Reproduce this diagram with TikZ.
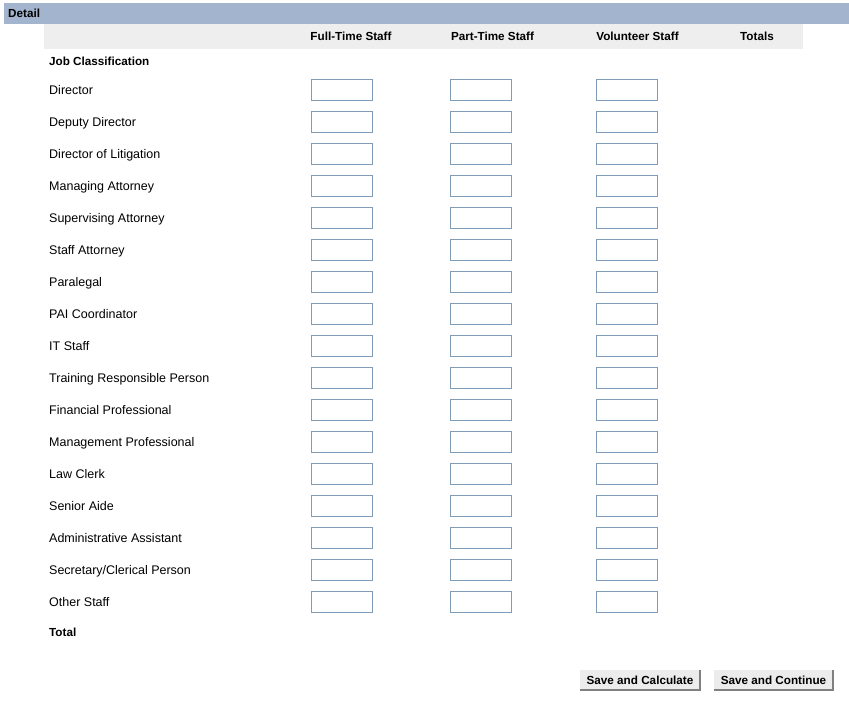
\documentclass[tikz,border=0pt]{standalone}
\usepackage{fontspec}
\setmainfont{Liberation Sans}
\usepackage{xcolor}
\definecolor{barblue}{HTML}{A3B5CE}
\definecolor{bandgray}{HTML}{EEEEEE}
\definecolor{boxblue}{HTML}{7F9DB9}
\definecolor{btngray}{HTML}{ECECEC}
\tikzset{
  lbl/.style={anchor=base west, inner sep=0pt, font=\fontsize{12.5}{14}\selectfont},
  hdr/.style={anchor=base, inner sep=0pt, font=\fontsize{11.7}{14}\selectfont\bfseries},
  entry/.style={draw=boxblue, line width=1.3pt, fill=white, minimum width=61pt, minimum height=21pt, inner sep=0pt},
  btn/.style={fill=btngray, inner sep=0pt, minimum height=20pt, font=\fontsize{11.7}{14}\selectfont\bfseries}
}

\begin{document}
\begin{tikzpicture}[x=1pt,y=-1pt]
\useasboundingbox (0,0) rectangle (849,701);
%\draw[step=50pt,gray,very thin] (0,0) grid (849,701); %background grid
\fill[barblue] (4,3) rectangle (849,24);
\node[hdr, anchor=base west] (detail) at (8,18) {Detail};
\fill[bandgray] (44,24) rectangle (803,49);
\node[hdr] (hfull) at (351,41) {Full-Time Staff};
\node[hdr] (hpart) at (492.5,41) {Part-Time Staff};
\node[hdr] (hvol)  at (637.5,41) {Volunteer Staff};
\node[hdr] (htot)  at (757,41) {Totals};
\node[hdr, anchor=base west] (jobclass) at (49,66) {Job Classification};
% one row per job classification
\foreach \name [count=\i] in {Director, Deputy Director, Director of Litigation,
  Managing Attorney, Supervising Attorney, Staff Attorney, Paralegal,
  PAI Coordinator, IT Staff, Training Responsible Person, Financial Professional,
  Management Professional, Law Clerk, Senior Aide, Administrative Assistant,
  Secretary/Clerical Person, Other Staff}{
  \pgfmathsetmacro{\yy}{58+32*\i}
  \node[lbl] (row\i) at (49,\yy+4.5) {\name};
  \node[entry] (full\i) at (342,\yy) {};
  \node[entry] (part\i) at (481,\yy) {};
  \node[entry] (vol\i)  at (627,\yy) {};
}
\node[hdr, anchor=base west] (total) at (49,636) {Total};
% buttons
\node[btn, minimum width=120pt] (calc) at (640,680) {Save and Calculate};
\node[btn, minimum width=119pt] (cont) at (773.5,680) {Save and Continue};
\foreach \b in {calc,cont}{
  \draw[white, line width=1pt] (\b.south west) -- (\b.north west) -- (\b.north east);
  \draw[gray, line width=1.5pt] (\b.north east) -- (\b.south east) -- (\b.south west);
}
\end{tikzpicture}
\end{document}
